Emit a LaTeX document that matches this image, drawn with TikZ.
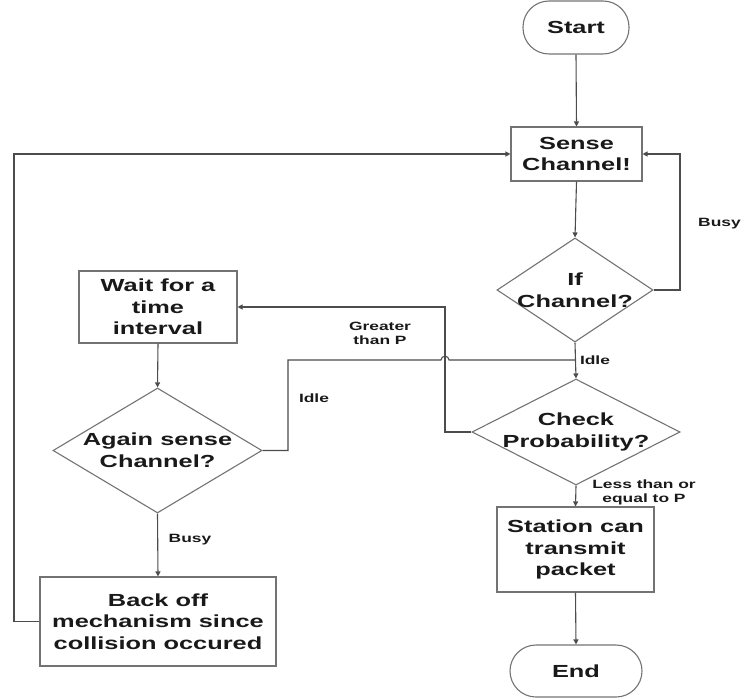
\documentclass[tikz,border=0pt]{standalone}
\usepackage{fontspec}
\setmainfont{Liberation Sans}[FakeStretch=1.45]
\usetikzlibrary{arrows.meta,shapes.geometric}
\tikzset{
  box/.style={draw=black!55, line width=1.1pt, rectangle, inner sep=0pt, align=center,
    font=\fontsize{17.5}{21.7}\selectfont\bfseries, text=black!90},
  term/.style={box, rounded corners=26pt},
  dia/.style={draw=black!55, line width=1.1pt, diamond, inner sep=0pt},
  dtext/.style={align=center, inner sep=0pt, font=\fontsize{17.5}{21.7}\selectfont\bfseries, text=black!90},
  lbl/.style={align=center, inner sep=0pt, font=\fontsize{12}{14}\selectfont\bfseries, text=black!90},
  conn/.style={draw=black!70, line width=1.1pt},
  arr/.style={conn, -{Triangle[length=5pt,width=5pt]}}
}
\begin{document}
\begin{tikzpicture}[x=1pt,y=-1pt]
\useasboundingbox (0,0) rectangle (741,700);
% nodes
\node[term, minimum width=106pt, minimum height=53pt] (start) at (576,27.5) {Start};
\node[box, minimum width=131pt, minimum height=54pt] (sense) at (576.5,154) {Sense\\Channel!};
\node[dia, minimum width=156pt, minimum height=104pt] (if) at (575,290) {};
\node[dtext] (iftext) at (if.center) {If\\Channel?};
\node[dia, minimum width=208pt, minimum height=106pt] (check) at (576,432) {};
\node[dtext] (checktext) at (check.center) {Check\\Probability?};
\node[box, minimum width=157pt, minimum height=85pt] (station) at (575.5,549.5) {Station can\\transmit\\packet};
\node[term, minimum width=132pt, minimum height=52pt] (end) at (576,671) {End};
\node[box, minimum width=158pt, minimum height=72pt] (wait) at (158,307) {Wait for a\\time\\interval};
\node[dia, minimum width=209pt, minimum height=125pt] (again) at (157.5,450.5) {};
\node[dtext] (againtext) at (again.center) {Again sense\\Channel?};
\node[box, minimum width=236pt, minimum height=89pt] (backoff) at (158,621.5) {Back off\\mechanism since\\collision occured};
% helper coordinates
\coordinate (busyx) at (680,0);
\coordinate (gx) at (445,0);
\coordinate (ix) at (288,0);
\coordinate (iy) at (0,360);
\coordinate (hopl) at (441,360);
\coordinate (hopr) at (449,360);
\coordinate (lx) at (14,0);
% connectors
\draw[arr] (start.south) -- (sense.north);
\draw[arr] (sense.south) -- (if.north);
\draw[arr] (if.east) -- (if.east -| busyx) |- (sense.east);
\draw[arr] (if.south) -- (check.north);
\draw[arr] (check.west) -- (check.west -| gx) |- (wait.east);
\draw[conn] (again.east) -- (again.east -| ix) -- (ix |- iy) -- (hopl)
  .. controls (441,355) and (449,355) .. (hopr) -- (if.south |- iy);
\draw[arr] (check.south) -- (station.north);
\draw[arr] (station.south) -- (end.north);
\draw[arr] (wait.south) -- (again.north);
\draw[arr] (again.south) -- (backoff.north);
\draw[arr] (backoff.west) -- (backoff.west -| lx) |- (sense.west);
% labels
\node[lbl, anchor=west] (lbusy1) at (698,224) {Busy};
\node[lbl] (lidle1) at (595,360) {Idle};
\node[lbl] (lgreater) at (380,333) {Greater\\than P};
\node[lbl] (lidle2) at (314,398) {Idle};
\node[lbl] (lbusy2) at (190,540) {Busy};
\node[lbl] (lless) at (644,492) {Less than or\\equal to P};
\end{tikzpicture}
\end{document}
